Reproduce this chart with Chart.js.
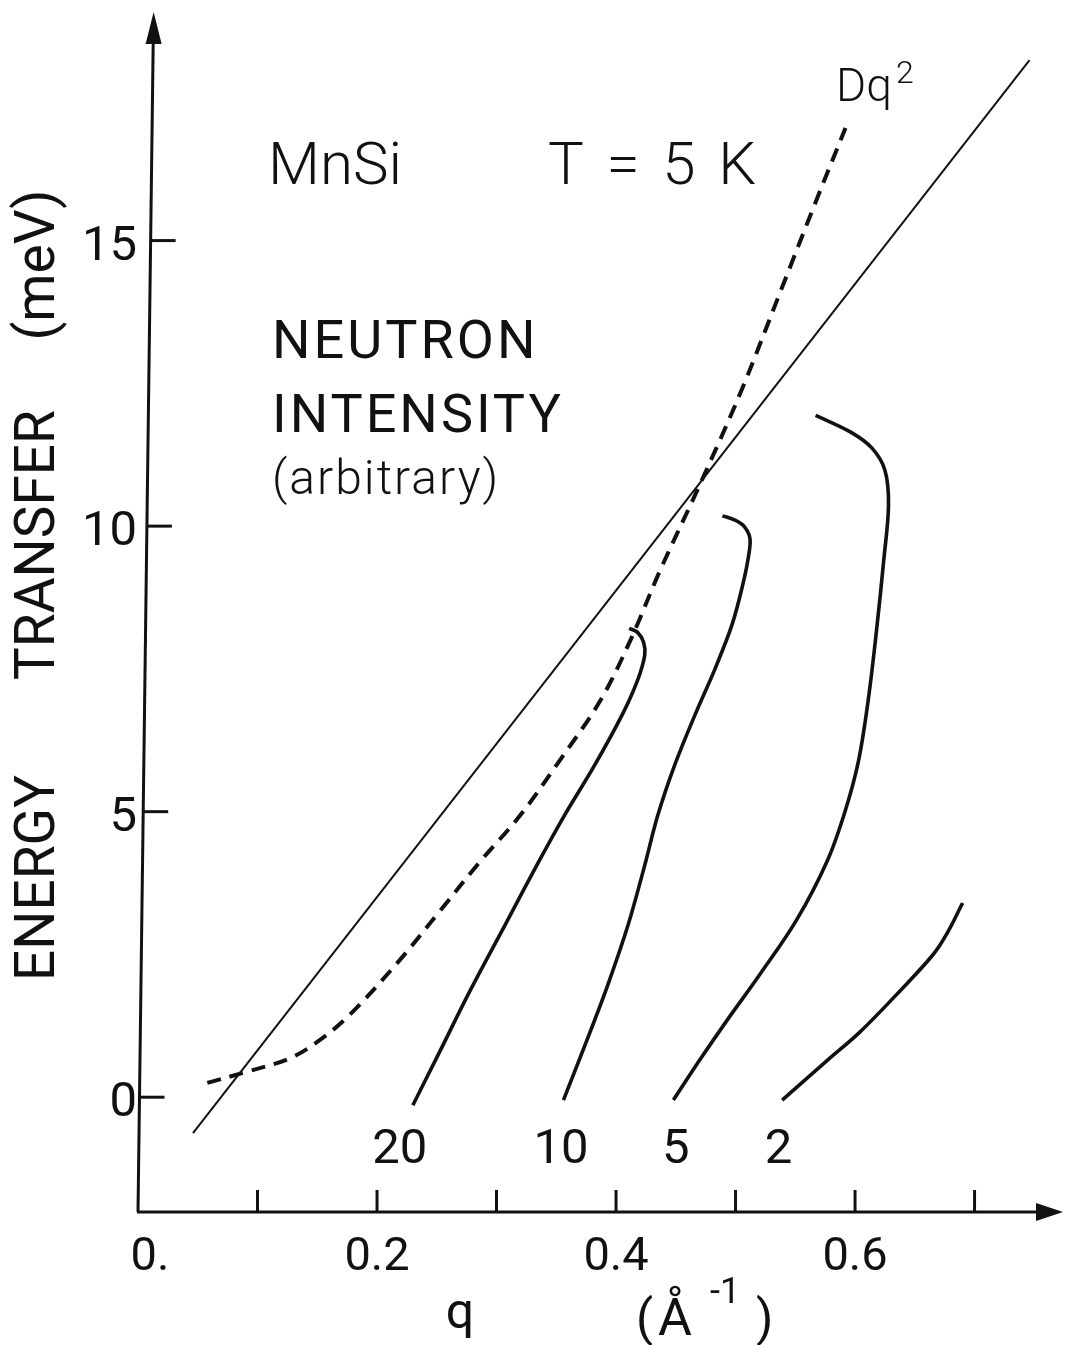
<!DOCTYPE html>
<html>
<head>
<meta charset="utf-8">
<script src="https://cdn.jsdelivr.net/npm/chart.js@4.4.1/dist/chart.umd.min.js"></script>
<style>
  html, body { margin: 0; padding: 0; background: #fff; }
  #wrap { width: 1077px; height: 1345px; }
</style>
</head>
<body>
<div id="wrap"><canvas id="grafico"></canvas></div>
<script>
// =====================================================
// MnSi  T = 5 K  -  contornos de intensidade
// =====================================================

const qMin = 0, qMax = 0.7715;
const eMin = -2.01, eMax = 18.95;

const xTicks = [0.1, 0.2, 0.3, 0.4, 0.5, 0.6, 0.7];
const xLabelValues = [0, 0.2, 0.4, 0.6];
const xTickLabels = ["0.", "0.2", "0.4", "0.6"];
const yTicks = [0, 5, 10, 15];
const yTickLabels = ["0", "5", "10", "15"];

// reta continua
const lineQ = [0.046, 0.746];
const lineE = [-0.63, 18.16];

// Dq^2 (tracejada)
const dq2Q = [0.058, 0.090, 0.127, 0.152, 0.177, 0.219, 0.253, 0.286, 0.320, 0.353, 0.387, 0.412, 0.437, 0.470, 0.505, 0.538, 0.566, 0.592];
const dq2E = [0.25, 0.44, 0.68, 1.00, 1.44, 2.40, 3.27, 4.12, 4.94, 5.90, 6.95, 8.00, 9.23, 10.72, 12.38, 14.13, 15.62, 16.97];

// contorno 20
const c20Q = [0.230, 0.253, 0.278, 0.307, 0.336, 0.357, 0.382, 0.405, 0.418, 0.424, 0.423, 0.418, 0.411];
const c20E = [-0.14, 0.82, 1.87, 3.01, 4.15, 4.94, 5.81, 6.69, 7.30, 7.74, 7.97, 8.14, 8.21];

// contorno 10
const c10Q = [0.356, 0.374, 0.393, 0.410, 0.424, 0.435, 0.449, 0.466, 0.483, 0.497, 0.506, 0.511, 0.512, 0.507, 0.499, 0.489];
const c10E = [-0.05, 0.91, 1.96, 3.01, 4.06, 4.94, 5.81, 6.69, 7.51, 8.27, 8.97, 9.49, 9.79, 10.00, 10.11, 10.18];

// contorno 5
const c5Q = [0.448, 0.470, 0.493, 0.520, 0.551, 0.577, 0.592, 0.603, 0.611, 0.618, 0.624, 0.628, 0.625, 0.614, 0.596, 0.567];
const c5E = [-0.05, 0.65, 1.35, 2.14, 3.10, 4.15, 5.03, 5.90, 6.95, 8.18, 9.40, 10.37, 10.98, 11.37, 11.65, 11.94];

// contorno 2
const c2Q = [0.539, 0.577, 0.604, 0.638, 0.665, 0.677, 0.690];
const c2E = [-0.05, 0.65, 1.14, 1.87, 2.49, 2.87, 3.40];

const curveLabels = ["20", "10", "5", "2"];
const curveLabelQ = [0.219, 0.354, 0.450, 0.536];
const curveLabelE = -1.16;

function pts(qs, es) {
  return qs.map((q, i) => ({ x: q, y: es[i] }));
}

const FONT = "Roboto, 'Liberation Sans', sans-serif";
const INK = "#111";

// eixos, setas, marcas e textos desenhados a mao
const desenhoEixos = {
  id: "desenhoEixos",
  afterDraw(chart) {
    const ctx = chart.ctx;
    const xs = chart.scales.x, ys = chart.scales.y;
    const area = chart.chartArea;
    const x0 = xs.getPixelForValue(0);
    const yBase = area.bottom;
    const slant = 0.013; // eixo vertical levemente inclinado
    const axisX = (py) => x0 + (yBase - py) * slant;

    ctx.save();
    ctx.strokeStyle = INK;
    ctx.fillStyle = INK;
    ctx.lineWidth = 3;
    ctx.lineCap = "butt";

    // eixo y
    const yTop = area.top - 3;
    ctx.beginPath();
    ctx.moveTo(x0, yBase);
    ctx.lineTo(axisX(yTop + 25), yTop + 25);
    ctx.stroke();
    ctx.beginPath();
    ctx.moveTo(axisX(yTop), yTop);
    ctx.lineTo(axisX(yTop) - 8, yTop + 32);
    ctx.lineTo(axisX(yTop) + 8, yTop + 32);
    ctx.closePath();
    ctx.fill();

    // eixo x
    const xEnd = area.right + 3;
    ctx.beginPath();
    ctx.moveTo(x0 - 1, yBase);
    ctx.lineTo(xEnd - 20, yBase);
    ctx.stroke();
    ctx.beginPath();
    ctx.moveTo(xEnd, yBase);
    ctx.lineTo(xEnd - 27, yBase - 9);
    ctx.lineTo(xEnd - 27, yBase + 9);
    ctx.closePath();
    ctx.fill();

    // marcas
    xTicks.forEach((v) => {
      const px = xs.getPixelForValue(v);
      ctx.beginPath();
      ctx.moveTo(px, yBase);
      ctx.lineTo(px, yBase - 22);
      ctx.stroke();
    });
    yTicks.forEach((v) => {
      const py = ys.getPixelForValue(v);
      const ax = axisX(py);
      ctx.beginPath();
      ctx.moveTo(ax, py);
      ctx.lineTo(ax + 25, py);
      ctx.stroke();
    });

    // rotulos das marcas
    ctx.font = "400 47px " + FONT;
    ctx.textAlign = "center";
    ctx.textBaseline = "alphabetic";
    xLabelValues.forEach((v, i) => {
      const px = xs.getPixelForValue(v) + (i === 0 ? 12 : 0);
      ctx.fillText(xTickLabels[i], px, yBase + 58);
    });
    ctx.font = "400 49px " + FONT;
    ctx.textAlign = "right";
    yTicks.forEach((v, i) => {
      const py = ys.getPixelForValue(v);
      ctx.fillText(yTickLabels[i], 137, py + 19);
    });

    // titulo eixo x
    ctx.font = "400 50px " + FONT;
    ctx.textAlign = "center";
    ctx.fillText("q", 460, 1328);
    ctx.textAlign = "left";
    ctx.fillText("(", 636, 1335);
    ctx.font = "400 52px " + FONT;
    ctx.fillText("Å", 658, 1335);
    ctx.font = "400 50px " + FONT;
    ctx.fillText(")", 756, 1335);
    ctx.font = "400 36px " + FONT;
    ctx.fillText("-1", 710, 1303);

    // titulo eixo y
    ctx.save();
    ctx.translate(40, 0);
    ctx.rotate(-Math.PI / 2);
    ctx.font = "400 55px " + FONT;
    ctx.textAlign = "center";
    ctx.textBaseline = "middle";
    ctx.fillText("ENERGY", -878, 0);
    ctx.fillText("TRANSFER", -545, 0);
    ctx.fillText("(meV)", -265, 0);
    ctx.restore();

    // textos internos
    ctx.textAlign = "left";
    ctx.textBaseline = "alphabetic";
    ctx.font = "300 60px " + FONT;
    ctx.fillText("MnSi", 268, 184);
    ctx.letterSpacing = "4px";
    ctx.fillText("T = 5 K", 548, 184);
    ctx.letterSpacing = "3px";
    ctx.font = "400 54px " + FONT;
    ctx.fillText("NEUTRON", 272, 358);
    ctx.fillText("INTENSITY", 272, 432);
    ctx.letterSpacing = "2px";
    ctx.font = "300 48px " + FONT;
    ctx.fillText("(arbitrary)", 272, 494);
    ctx.letterSpacing = "0px";

    ctx.font = "300 46px " + FONT;
    ctx.fillText("Dq", 836, 101);
    ctx.font = "300 32px " + FONT;
    ctx.fillText("2", 896, 83);

    // rotulos dos contornos
    ctx.font = "400 49px " + FONT;
    ctx.textAlign = "center";
    const ly = ys.getPixelForValue(curveLabelE);
    curveLabels.forEach((t, i) => {
      ctx.fillText(t, xs.getPixelForValue(curveLabelQ[i]), ly);
    });

    ctx.restore();
  },
};

const estiloContorno = {
  showLine: true,
  borderColor: INK,
  borderWidth: 3.6,
  pointRadius: 0,
  tension: 0.35,
  fill: false,
};

new Chart(document.getElementById("grafico"), {
  type: "scatter",
  data: {
    datasets: [
      { label: "reta", data: pts(lineQ, lineE), showLine: true, borderColor: INK, borderWidth: 2, pointRadius: 0, tension: 0 },
      { label: "Dq2", data: pts(dq2Q, dq2E), showLine: true, borderColor: INK, borderWidth: 4, borderDash: [14, 9], pointRadius: 0, tension: 0.35 },
      { label: "20", data: pts(c20Q, c20E), ...estiloContorno },
      { label: "10", data: pts(c10Q, c10E), ...estiloContorno },
      { label: "5", data: pts(c5Q, c5E), ...estiloContorno },
      { label: "2", data: pts(c2Q, c2E), ...estiloContorno },
    ],
  },
  options: {
    responsive: true,
    maintainAspectRatio: false,
    animation: false,
    layout: { padding: { left: 138, right: 17, top: 15, bottom: 133 } },
    plugins: { legend: { display: false }, tooltip: { enabled: false } },
    scales: {
      x: { type: "linear", min: qMin, max: qMax, display: false },
      y: { type: "linear", min: eMin, max: eMax, display: false },
    },
  },
  plugins: [desenhoEixos],
});
</script>
</body>
</html>
